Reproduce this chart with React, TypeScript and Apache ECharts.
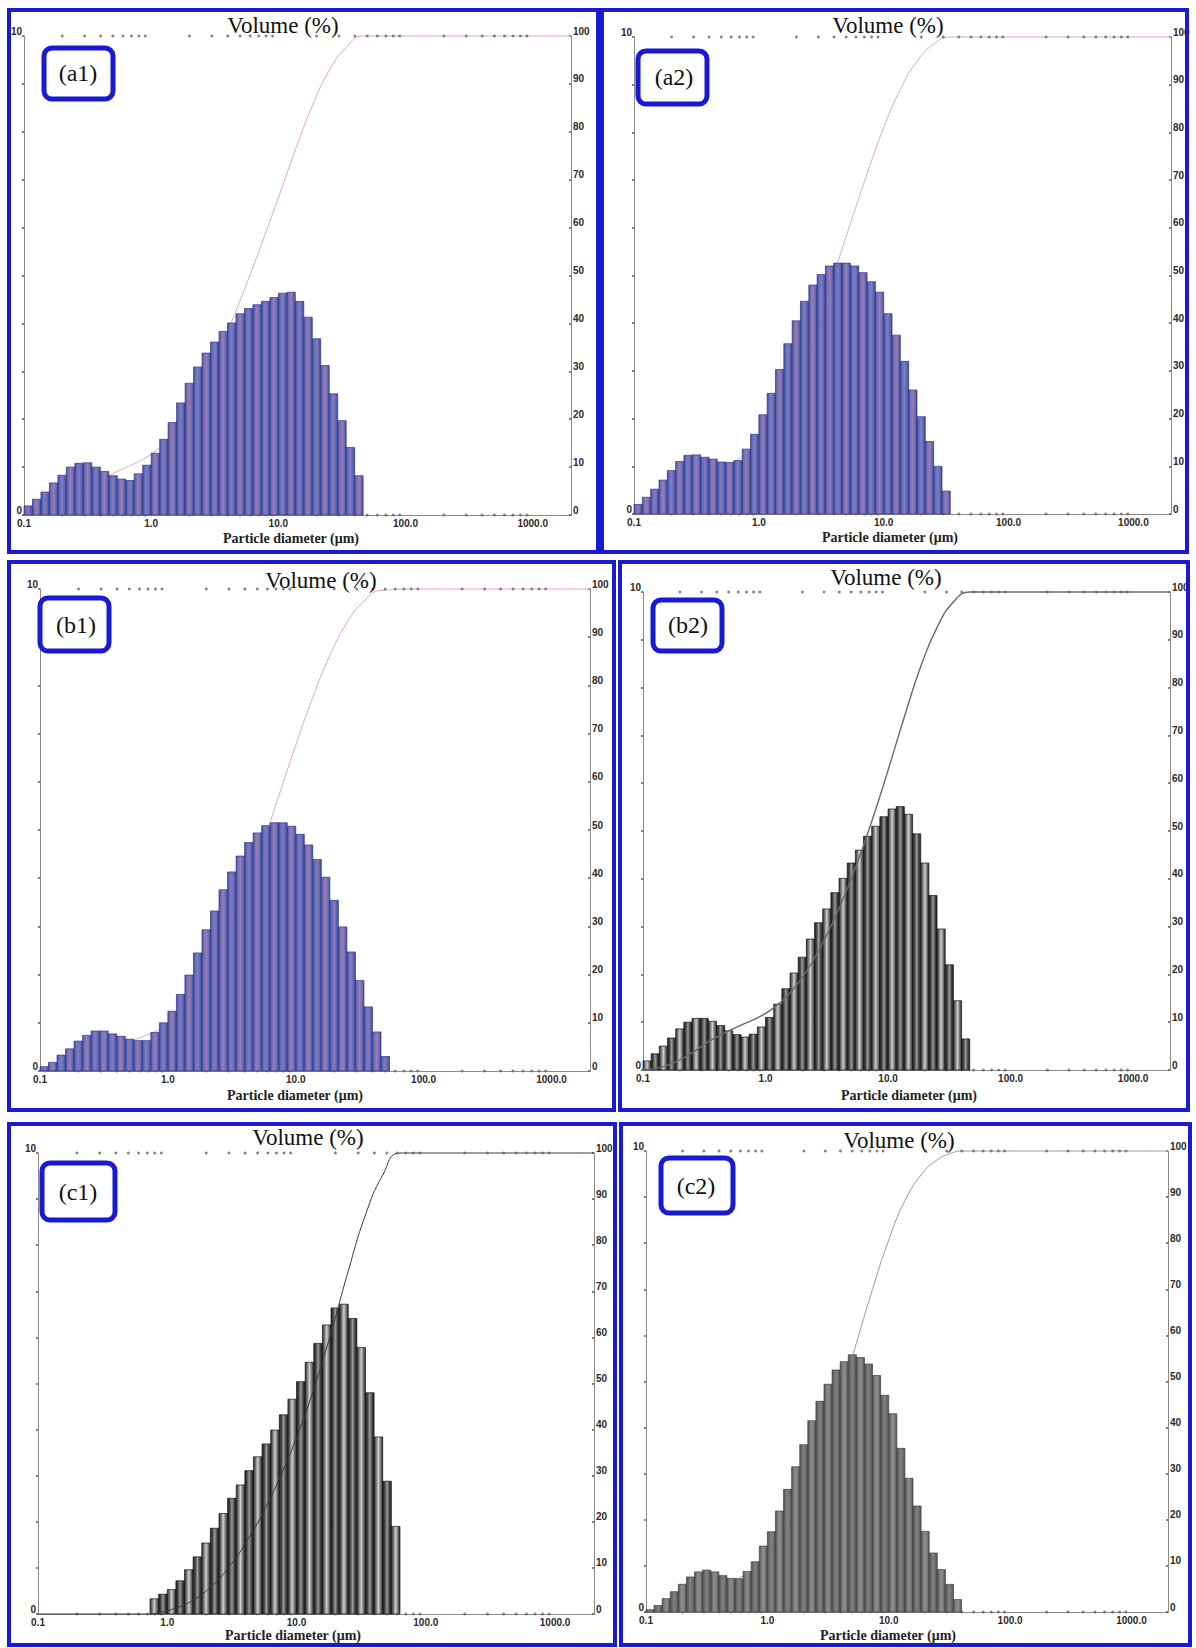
import React, { useEffect, useRef } from "react";
import * as echarts from "echarts";

// ---------- size classes (instrument grid: 15 classes per decade) ----------
const CLASS_MANTISSAS = [1.0, 1.166, 1.359, 1.585, 1.848, 2.154, 2.512, 2.929, 3.415, 3.981, 4.642, 5.412, 6.31, 7.356, 8.577];
const CLASS_DECADES = [0.1, 1, 10];
const SIZE_CLASSES: number[] = [
  ...CLASS_DECADES.flatMap((d) => CLASS_MANTISSAS.map((m) => +(d * m).toPrecision(4))),
  100,
];

// ---------- axis ticks ----------
const X_TICK_VALUES = [0.1, 1, 10, 100, 1000];
const X_TICK_LABELS = ["0.1", "1.0", "10.0", "100.0", "1000.0"];
const MINOR_MANTISSAS = [2, 3, 4, 5, 6, 7, 8, 9];
const MINOR_DECADES = [0.1, 1, 10, 100];
const X_MIN = 0.1;
const X_MAX = 2000;
const LEFT_LABEL_VALUES = [0, 10];
const LEFT_LABEL_TEXT = ["0", "10"];

// ---------- data: volume % per size class (left axis) ----------
const A1_FIRST = 0;
const A1_VOLUME = [0.19, 0.33, 0.48, 0.67, 0.83, 1.0, 1.08, 1.09, 1.0, 0.91, 0.82, 0.75, 0.72, 0.86, 1.04, 1.29, 1.58, 1.93, 2.34, 2.75, 3.09, 3.38, 3.61, 3.83, 4.01, 4.2, 4.31, 4.39, 4.46, 4.54, 4.63, 4.65, 4.46, 4.13, 3.68, 3.12, 2.53, 1.97, 1.41, 0.82];
const A1_CUM_SIZE = [0.1, 0.136, 0.185, 0.251, 0.341, 0.464, 0.631, 0.858, 1.166, 1.585, 2.154, 2.929, 3.981, 5.412, 7.356, 10, 13.59, 18.48, 25.12, 34.15, 46.42, 100, 300, 1000, 2000];
const A1_CUM_PCT = [0, 0.6, 1.8, 3.8, 6.1, 8.2, 9.9, 11.6, 14.1, 17.8, 23.3, 30.3, 38.3, 47.1, 56.5, 66.2, 76.2, 85.4, 92.8, 97.6, 100, 100, 100, 100, 100];

const A2_FIRST = 0;
const A2_VOLUME = [0.2, 0.35, 0.52, 0.71, 0.91, 1.1, 1.23, 1.24, 1.19, 1.15, 1.09, 1.08, 1.12, 1.36, 1.67, 2.08, 2.53, 3.03, 3.57, 4.05, 4.46, 4.8, 5.02, 5.2, 5.26, 5.26, 5.2, 5.06, 4.87, 4.65, 4.2, 3.75, 3.2, 2.6, 2.04, 1.52, 1.0, 0.48];
const A2_CUM_SIZE = [0.1, 0.136, 0.185, 0.251, 0.341, 0.464, 0.631, 0.858, 1.166, 1.585, 2.154, 2.929, 3.981, 5.412, 7.356, 10, 13.59, 18.48, 25.12, 34.15, 100, 300, 1000, 2000];
const A2_CUM_PCT = [0, 0.6, 1.8, 3.8, 6.3, 8.7, 10.9, 13.4, 17.2, 22.8, 30.6, 39.9, 50.3, 60.9, 71.3, 81.0, 89.0, 94.9, 98.5, 100, 100, 100, 100, 100];

const B1_FIRST = 0;
const B1_VOLUME = [0.09, 0.18, 0.33, 0.46, 0.62, 0.74, 0.83, 0.83, 0.77, 0.72, 0.66, 0.63, 0.63, 0.8, 1.0, 1.24, 1.59, 1.99, 2.45, 2.93, 3.32, 3.76, 4.13, 4.46, 4.74, 4.94, 5.09, 5.15, 5.15, 5.08, 4.91, 4.69, 4.39, 4.02, 3.54, 2.99, 2.47, 1.88, 1.33, 0.81, 0.3];
const B1_CUM_SIZE = [0.1, 0.136, 0.185, 0.251, 0.341, 0.464, 0.631, 0.858, 1.166, 1.585, 2.154, 2.929, 3.981, 5.412, 7.356, 10, 13.59, 18.48, 25.12, 34.15, 46.42, 100, 300, 1000, 2000];
const B1_CUM_PCT = [0, 0.3, 1.1, 2.5, 4.2, 5.8, 7.1, 8.6, 10.9, 14.6, 20.2, 27.5, 36.4, 46.4, 57.0, 67.6, 77.5, 86.2, 93.0, 97.5, 99.7, 100, 100, 100, 100];

const B2_FIRST = 0;
const B2_VOLUME = [0.19, 0.34, 0.5, 0.67, 0.86, 1.0, 1.08, 1.08, 1.02, 0.93, 0.82, 0.74, 0.69, 0.75, 0.9, 1.1, 1.38, 1.7, 2.03, 2.36, 2.74, 3.08, 3.37, 3.71, 4.01, 4.33, 4.6, 4.89, 5.1, 5.3, 5.46, 5.51, 5.35, 4.94, 4.33, 3.65, 2.95, 2.2, 1.45, 0.65];
const B2_CUM_SIZE = [0.1, 0.136, 0.185, 0.251, 0.341, 0.464, 0.631, 0.858, 1.166, 1.585, 2.154, 2.929, 3.981, 5.412, 7.356, 10, 13.59, 18.48, 25.12, 34.15, 46.42, 100, 300, 1000, 2000];
const B2_CUM_PCT = [0, 0.5, 1.7, 3.6, 5.9, 7.8, 9.4, 10.9, 13.0, 16.1, 20.6, 26.6, 33.8, 42.3, 52.0, 62.7, 73.9, 84.4, 92.6, 97.9, 100, 100, 100, 100, 100];

const C1_FIRST = 13;
const C1_VOLUME = [0.33, 0.43, 0.53, 0.72, 0.96, 1.24, 1.54, 1.86, 2.18, 2.51, 2.8, 3.11, 3.41, 3.69, 3.99, 4.32, 4.66, 5.04, 5.46, 5.87, 6.27, 6.64, 6.72, 6.41, 5.78, 4.8, 3.84, 2.88, 1.9];
const C1_CUM_SIZE = [0.1, 0.3, 0.736, 0.858, 1.166, 1.585, 2.154, 2.929, 3.981, 5.412, 7.356, 10, 13.59, 18.48, 25.12, 34.15, 46.42, 63.1, 150, 400, 1000, 2000];
const C1_CUM_PCT = [0, 0, 0, 0.3, 1.3, 3.0, 5.8, 9.8, 15.1, 21.6, 29.3, 38.3, 48.8, 61.0, 74.4, 86.6, 95.2, 100, 100, 100, 100, 100];

const C2_FIRST = 0;
const C2_VOLUME = [0.05, 0.14, 0.29, 0.44, 0.6, 0.76, 0.87, 0.91, 0.87, 0.79, 0.73, 0.72, 0.88, 1.09, 1.43, 1.74, 2.19, 2.66, 3.15, 3.63, 4.15, 4.57, 4.94, 5.25, 5.43, 5.58, 5.52, 5.38, 5.13, 4.7, 4.3, 3.55, 2.9, 2.3, 1.75, 1.28, 0.92, 0.6, 0.27];
const C2_CUM_SIZE = [0.1, 0.136, 0.185, 0.251, 0.341, 0.464, 0.631, 0.858, 1.166, 1.585, 2.154, 2.929, 3.981, 5.412, 7.356, 10, 13.59, 18.48, 25.12, 34.15, 39.81, 100, 300, 1000, 2000];
const C2_CUM_PCT = [0, 0.2, 1.0, 2.5, 4.4, 6.2, 7.8, 9.9, 13.3, 18.6, 25.9, 35.3, 46.3, 58.3, 70.0, 80.7, 89.2, 94.8, 98.1, 99.7, 100, 100, 100, 100, 100];

const TITLE_TEXT = "Volume (%)";
const X_NAME_TEXT = "Particle diameter (μm)";

// ---------- layout / styles ----------
const SERIF = '"Liberation Serif", "Times New Roman", serif';
const SANS = '"Liberation Sans", Arial, sans-serif';
const BLUE = "#1a1ad4";
const AXIS_COLOR = "#8a8a8a";

type BarStyle = "blue" | "stripe" | "gray";
interface Panel {
  label: string;
  border: number[];
  grid: { left: number; top: number; right: number; bottom: number };
  title: number[];
  xName: number[];
  box: number[];
  boxText: number[];
  first: number;
  volume: number[];
  cumSize: number[];
  cumPct: number[];
  bar: BarStyle;
  lineColor: string;
  lineWidth: number;
  lineOnTop: boolean;
}

const PANELS: Panel[] = [
  { label: "(a1)", border: [9, 10, 598, 552], grid: { left: 24, top: 36, right: 571, bottom: 515 }, title: [283, 25], xName: [291, 538], box: [44, 48, 69, 51], boxText: [78, 73], first: A1_FIRST, volume: A1_VOLUME, cumSize: A1_CUM_SIZE, cumPct: A1_CUM_PCT, bar: "blue", lineColor: "#e6a2c4", lineWidth: 1, lineOnTop: false },
  { label: "(a2)", border: [602, 10, 1187, 552], grid: { left: 634, top: 37, right: 1171, bottom: 514 }, title: [888, 25], xName: [890, 537], box: [638, 51, 69, 53], boxText: [674, 77], first: A2_FIRST, volume: A2_VOLUME, cumSize: A2_CUM_SIZE, cumPct: A2_CUM_PCT, bar: "blue", lineColor: "#e6a2c4", lineWidth: 1, lineOnTop: false },
  { label: "(b1)", border: [9, 562, 614, 1110], grid: { left: 40, top: 589, right: 590, bottom: 1071 }, title: [321, 580], xName: [295, 1095], box: [40, 598, 69, 53], boxText: [76, 625], first: B1_FIRST, volume: B1_VOLUME, cumSize: B1_CUM_SIZE, cumPct: B1_CUM_PCT, bar: "blue", lineColor: "#e6a2c4", lineWidth: 1, lineOnTop: false },
  { label: "(b2)", border: [620, 562, 1188, 1110], grid: { left: 643, top: 592, right: 1170, bottom: 1070 }, title: [886, 577], xName: [909, 1095], box: [653, 600, 69, 51], boxText: [688, 625], first: B2_FIRST, volume: B2_VOLUME, cumSize: B2_CUM_SIZE, cumPct: B2_CUM_PCT, bar: "stripe", lineColor: "#6a6a6a", lineWidth: 1.4, lineOnTop: true },
  { label: "(c1)", border: [9, 1124, 615, 1645], grid: { left: 38, top: 1153, right: 594, bottom: 1614 }, title: [308, 1137], xName: [293, 1635], box: [42, 1163, 73, 57], boxText: [78, 1192], first: C1_FIRST, volume: C1_VOLUME, cumSize: C1_CUM_SIZE, cumPct: C1_CUM_PCT, bar: "stripe", lineColor: "#3a3a3a", lineWidth: 1, lineOnTop: true },
  { label: "(c2)", border: [621, 1124, 1190, 1645], grid: { left: 646, top: 1151, right: 1168, bottom: 1612 }, title: [899, 1140], xName: [888, 1635], box: [661, 1158, 72, 55], boxText: [696, 1186], first: C2_FIRST, volume: C2_VOLUME, cumSize: C2_CUM_SIZE, cumPct: C2_CUM_PCT, bar: "gray", lineColor: "#9a9a9a", lineWidth: 1, lineOnTop: false },
];

function grad(colors: string[]) {
  return new echarts.graphic.LinearGradient(
    0, 0, 1, 0,
    colors.map((c, i) => ({ offset: i / (colors.length - 1), color: c }))
  );
}

function fmtX(v: number) {
  const lv = Math.log10(v);
  for (let i = 0; i < X_TICK_VALUES.length; i++) {
    if (Math.abs(lv - Math.log10(X_TICK_VALUES[i])) < 1e-6) return X_TICK_LABELS[i];
  }
  return "";
}

function fmtLeft(v: number) {
  const i = LEFT_LABEL_VALUES.indexOf(Math.round(v * 1000) / 1000);
  return i >= 0 ? LEFT_LABEL_TEXT[i] : "";
}

function buildOption() {
  const MINOR_TICKS = MINOR_DECADES.flatMap((d) => MINOR_MANTISSAS.map((m) => +(d * m).toPrecision(3)));
  const FILLS: Record<BarStyle, any[]> = {
    blue: [
      grad(["#3c4ba8", "#6672bd", "#8c78b6", "#5e6ab8", "#3a47a0"]),
      grad(["#4753a6", "#7c70b4", "#9d7cb2", "#6d6fb6", "#414ea4"]),
    ],
    stripe: [
      grad(["#2a2a2a", "#787878", "#cfcfcf", "#787878", "#2a2a2a"]),
      grad(["#1e1e1e", "#474747", "#9c9c9c", "#474747", "#1e1e1e"]),
    ],
    gray: [
      grad(["#4e4e4e", "#7a7a7a", "#8f8f8f", "#7a7a7a", "#4e4e4e"]),
      grad(["#555555", "#6c6c6c", "#848484", "#6c6c6c", "#555555"]),
    ],
  };
  const STROKES: Record<BarStyle, string> = { blue: "#2e388a", stripe: "#151515", gray: "#404040" };

  const grid: any[] = [];
  const xAxis: any[] = [];
  const yAxis: any[] = [];
  const series: any[] = [];
  const graphic: any[] = [];

  const labelStyle = { fontSize: 10, fontWeight: "bold", color: "#2a2a2a", fontFamily: SANS };

  PANELS.forEach((p, i) => {
    grid.push({
      left: p.grid.left,
      top: p.grid.top,
      width: p.grid.right - p.grid.left,
      height: p.grid.bottom - p.grid.top,
      show: false,
    });
    xAxis.push({
      type: "log", logBase: 10, gridIndex: i, min: X_MIN, max: X_MAX, position: "bottom",
      axisLine: { show: true, lineStyle: { color: AXIS_COLOR, width: 1 } },
      axisTick: { show: false }, splitLine: { show: false }, minorTick: { show: false },
      axisLabel: { ...labelStyle, margin: 3, formatter: fmtX, showMinLabel: true, showMaxLabel: true },
    });
    xAxis.push({
      type: "log", logBase: 10, gridIndex: i, min: X_MIN, max: X_MAX, position: "top",
      axisLine: { show: true, lineStyle: { color: AXIS_COLOR, width: 1 } },
      axisTick: { show: false }, splitLine: { show: false }, axisLabel: { show: false },
    });
    yAxis.push({
      type: "value", gridIndex: i, min: 0, max: 10, interval: 1, position: "left",
      axisLine: { show: true, lineStyle: { color: AXIS_COLOR, width: 1 } },
      axisTick: { show: true, length: 2, lineStyle: { color: "#555", width: 1.5 } },
      splitLine: { show: false },
      axisLabel: { ...labelStyle, margin: 2, verticalAlign: "bottom", formatter: fmtLeft },
    });
    yAxis.push({
      type: "value", gridIndex: i, min: 0, max: 100, interval: 10, position: "right",
      axisLine: { show: true, lineStyle: { color: AXIS_COLOR, width: 1 } },
      axisTick: { show: true, length: 2, inside: true, lineStyle: { color: "#555", width: 1.5 } },
      splitLine: { show: false },
      axisLabel: { ...labelStyle, margin: 2, verticalAlign: "bottom" },
    });

    const fills = FILLS[p.bar];
    const stroke = STROKES[p.bar];
    series.push({
      type: "custom",
      name: p.label + " volume",
      xAxisIndex: 2 * i,
      yAxisIndex: 2 * i,
      clip: false,
      z: 2,
      encode: { x: [0, 1], y: 2 },
      data: p.volume.map((v, k) => [SIZE_CLASSES[p.first + k], SIZE_CLASSES[p.first + k + 1], v, k]),
      renderItem: (_params: any, api: any) => {
        const x0 = api.value(0);
        const x1 = api.value(1);
        const h = api.value(2);
        const k = api.value(3);
        const a = api.coord([x0, h]);
        const b = api.coord([x1, 0]);
        return {
          type: "rect",
          shape: { x: a[0], y: a[1], width: b[0] - a[0], height: b[1] - a[1] },
          style: { fill: fills[k % 2], stroke, lineWidth: 0.7 },
        };
      },
    });
    series.push({
      type: "line",
      name: p.label + " cumulative",
      xAxisIndex: 2 * i,
      yAxisIndex: 2 * i + 1,
      data: p.cumSize.map((s, k) => [s, p.cumPct[k]]),
      smooth: 0.5,
      showSymbol: false,
      symbol: "none",
      clip: false,
      z: p.lineOnTop ? 3 : 1,
      lineStyle: { color: p.lineColor, width: p.lineWidth },
    });
    series.push({
      type: "scatter",
      xAxisIndex: 2 * i,
      yAxisIndex: 2 * i,
      data: MINOR_TICKS.map((t) => [t, 10]),
      symbolSize: 3,
      clip: false,
      silent: true,
      z: 4,
      itemStyle: { color: "#666" },
    });
    series.push({
      type: "scatter",
      xAxisIndex: 2 * i,
      yAxisIndex: 2 * i,
      data: MINOR_TICKS.map((t) => [t, 0]),
      symbolSize: 3,
      clip: false,
      silent: true,
      z: 1,
      itemStyle: { color: "#666" },
    });

    // panel frame
    graphic.push({
      type: "rect",
      z: 20,
      shape: { x: p.border[0], y: p.border[1], width: p.border[2] - p.border[0], height: p.border[3] - p.border[1] },
      style: { fill: "none", stroke: BLUE, lineWidth: 4 },
      silent: true,
    });
    // title
    graphic.push({
      type: "text",
      z: 21,
      x: p.title[0],
      y: p.title[1],
      style: { text: TITLE_TEXT, fontSize: 23, fontFamily: SERIF, fill: "#111", align: "center", verticalAlign: "middle" },
    });
    // x axis name
    graphic.push({
      type: "text",
      z: 21,
      x: p.xName[0],
      y: p.xName[1],
      style: { text: X_NAME_TEXT, fontSize: 14, fontWeight: "bold", fontFamily: SERIF, fill: "#222", align: "center", verticalAlign: "middle" },
    });
    // label box
    graphic.push({
      type: "rect",
      z: 22,
      shape: { x: p.box[0], y: p.box[1], width: p.box[2], height: p.box[3], r: 8 },
      style: { fill: "#fff", stroke: BLUE, lineWidth: 5 },
    });
    graphic.push({
      type: "text",
      z: 23,
      x: p.boxText[0],
      y: p.boxText[1],
      style: { text: p.label, fontSize: 24, fontFamily: SERIF, fill: "#111", align: "center", verticalAlign: "middle" },
    });
  });

  return {
    animation: false,
    backgroundColor: "#ffffff",
    grid,
    xAxis,
    yAxis,
    series,
    graphic: { elements: graphic },
  };
}

export default function App() {
  const ref = useRef<HTMLDivElement>(null);
  useEffect(() => {
    if (!ref.current) return;
    const chart = echarts.init(ref.current, null, { renderer: "svg" });
    chart.setOption(buildOption() as any);
    return () => chart.dispose();
  }, []);
  return (
    <div
      ref={ref}
      style={{ position: "absolute", left: 0, top: 0, width: 1196, height: 1648, background: "#fff" }}
    />
  );
}
